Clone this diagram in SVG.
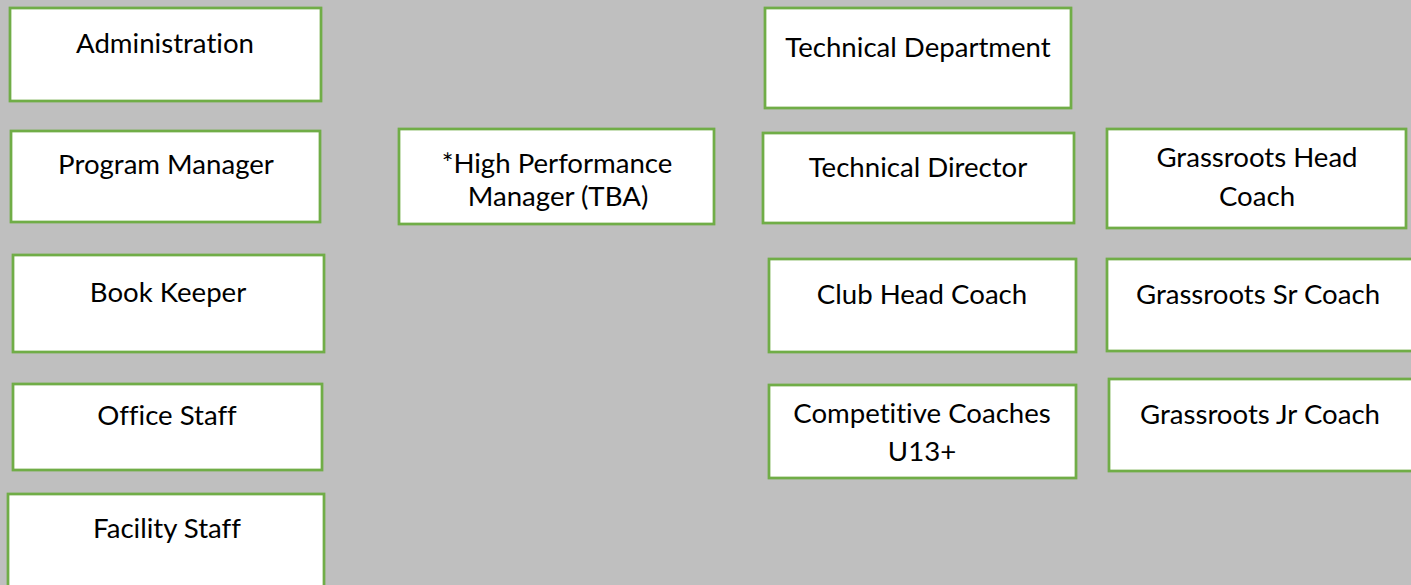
<svg xmlns="http://www.w3.org/2000/svg" width="1411" height="585" viewBox="0 0 1411 585">
  <style>
    .box { fill: #ffffff; stroke: #70AD47; stroke-width: 2.75; }
    .lbl { font-family: Lato, "Liberation Sans", sans-serif; font-size: 27.6px; fill: #000000; text-anchor: middle; font-variant-ligatures: none; font-feature-settings: "liga" 0, "clig" 0, "dlig" 0; }
  </style>
  <rect x="0" y="0" width="1411" height="585" fill="#BFBFBF"/>

  <!-- Administration column -->
  <g id="administration">
    <rect class="box" x="10" y="8" width="311" height="93"/>
    <text class="lbl" x="165" y="53">Administration</text>
  </g>
  <g id="program-manager">
    <rect class="box" x="11" y="131" width="309" height="91"/>
    <text class="lbl" x="166" y="174">Program Manager</text>
  </g>
  <g id="book-keeper">
    <rect class="box" x="13" y="255" width="311" height="97"/>
    <text class="lbl" x="168" y="302">Book Keeper</text>
  </g>
  <g id="office-staff">
    <rect class="box" x="13" y="384" width="309" height="86"/>
    <text class="lbl" x="167" y="425">Office Staff</text>
  </g>
  <g id="facility-staff">
    <rect class="box" x="8" y="494" width="316" height="110"/>
    <text class="lbl" x="167" y="538">Facility Staff</text>
  </g>

  <!-- High performance -->
  <g id="high-performance-manager">
    <rect class="box" x="399" y="129" width="315" height="95"/>
    <text class="lbl" x="557" y="173">*High Performance</text>
    <text class="lbl" x="558" y="206">Manager (TBA)</text>
  </g>

  <!-- Technical column -->
  <g id="technical-department">
    <rect class="box" x="765" y="8" width="306" height="100"/>
    <text class="lbl" x="918" y="57">Technical Department</text>
  </g>
  <g id="technical-director">
    <rect class="box" x="763" y="133" width="311" height="90"/>
    <text class="lbl" x="918" y="177">Technical Director</text>
  </g>
  <g id="club-head-coach">
    <rect class="box" x="769" y="259" width="307" height="93"/>
    <text class="lbl" x="922" y="304">Club Head Coach</text>
  </g>
  <g id="competitive-coaches">
    <rect class="box" x="769" y="385" width="307" height="93"/>
    <text class="lbl" x="922" y="423">Competitive Coaches</text>
    <text class="lbl" x="922" y="461">U13+</text>
  </g>

  <!-- Grassroots column -->
  <g id="grassroots-head-coach">
    <rect class="box" x="1107" y="129" width="299" height="99"/>
    <text class="lbl" x="1257" y="167">Grassroots Head</text>
    <text class="lbl" x="1257" y="206">Coach</text>
  </g>
  <g id="grassroots-sr-coach">
    <rect class="box" x="1107" y="259" width="320" height="92"/>
    <text class="lbl" x="1258" y="304">Grassroots Sr Coach</text>
  </g>
  <g id="grassroots-jr-coach">
    <rect class="box" x="1109" y="379" width="318" height="92"/>
    <text class="lbl" x="1260" y="424">Grassroots Jr Coach</text>
  </g>

  <g id="connectors"/>
</svg>
